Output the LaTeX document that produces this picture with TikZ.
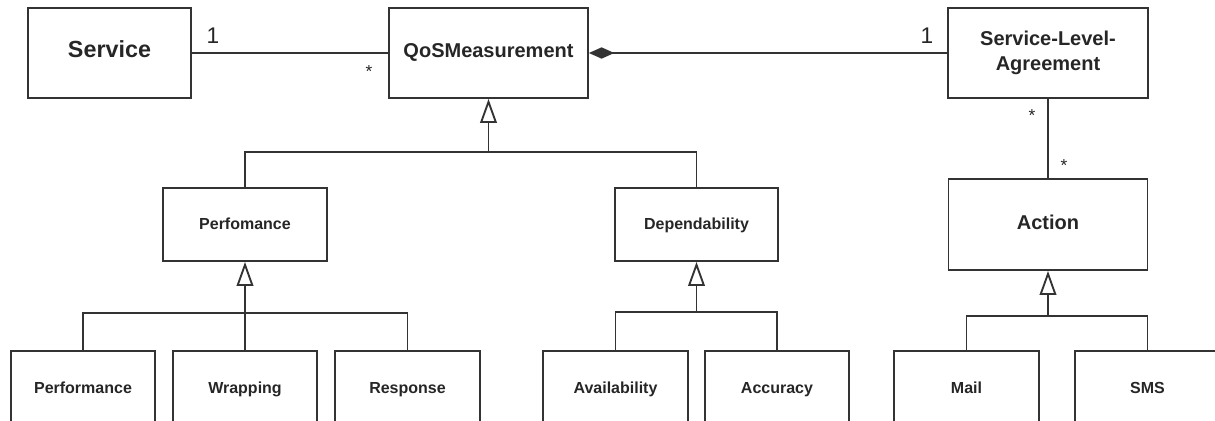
\documentclass[tikz,border=0pt]{standalone}
\usepackage{fontspec}
\setmainfont{Liberation Sans}
\usetikzlibrary{arrows.meta}
\begin{document}
\begin{tikzpicture}[x=0.75pt,y=-0.75pt,
  line width=1.4pt, draw=black!80, text=black!85,
  cls/.style={draw, rectangle, inner sep=0pt, font=\bfseries, text height=0.72em, text depth=0em},
  big/.style={cls, minimum width=#1*0.75pt, minimum height=67.5pt, font=\bfseries\fontsize{15}{18.5}\selectfont},
  mid/.style={cls, minimum width=#1*0.75pt, minimum height=54.75pt, font=\bfseries\fontsize{12}{14}\selectfont},
  low/.style={cls, minimum width=#1*0.75pt, minimum height=57pt, font=\bfseries\fontsize{12}{14}\selectfont},
  gen/.style={-{Triangle[open, length=18pt, width=12.5pt, line width=1.4pt]}},
  comp/.style={{Diamond[length=19pt, width=8.5pt]}-},
  mult/.style={anchor=base, inner sep=0pt, font=\fontsize{17}{20}\selectfont},
  star/.style={anchor=base, inner sep=0pt, font=\fontsize{13}{15}\selectfont}]
\useasboundingbox (0,0) rectangle (1215,421);
\clip (0,0) rectangle (1215,421);
% top row
\node[big=163, font=\bfseries\fontsize{17.5}{20}\selectfont] (svc) at (109.5,53) {Service};
\node[big=199] (qos) at (488.5,53) {QoSMeasurement};
\node[big=200, align=center, text height=, text depth=] (sla) at (1048,53) {Service-Level-\\Agreement};
% middle row
\node[mid=164] (perf) at (245,224.5) {Perfomance};
\node[mid=163] (dep) at (696.5,224.5) {Dependability};
\node[big=199, minimum height=68.25pt] (act) at (1048,224.5) {Action};
% bottom row
\node[low=144] (p1) at (83,389) {Performance};
\node[low=144] (wr) at (245,389) {Wrapping};
\node[low=145] (rs) at (407.5,389) {Response};
\node[low=145] (av) at (615.5,389) {Availability};
\node[low=144] (ac) at (777,389) {Accuracy};
\node[low=145] (ml) at (966.5,389) {Mail};
\node[low=145] (sms) at (1147.5,389) {SMS};
% associations
\draw (svc.east) -- (qos.west);
\draw[comp] (qos.east) -- (sla.west);
\draw (sla.south) -- (act.north);
\node[mult] (m1) at (213,43) {1};
\node[star] (m2) at (369,77) {*};
\node[mult] (m3) at (927,43) {1};
\node[star] (m4) at (1032,121) {*};
\node[star] (m5) at (1064,171) {*};
% generalizations
\coordinate (j1) at (488.5,152);
\draw (perf.north) |- (j1) -| (dep.north);
\draw[gen] (j1) -- (qos.south);
\coordinate (j2) at (245,313);
\draw (p1.north) |- (j2) -| (rs.north);
\draw[gen] (wr.north) -- (perf.south);
\coordinate (j3) at (696.5,312);
\draw (av.north) |- (j3) -| (ac.north);
\draw[gen] (j3) -- (dep.south);
\coordinate (j4) at (1048,316);
\draw (ml.north) |- (j4) -| (sms.north);
\draw[gen] (j4) -- (act.south);
\end{tikzpicture}
\end{document}
